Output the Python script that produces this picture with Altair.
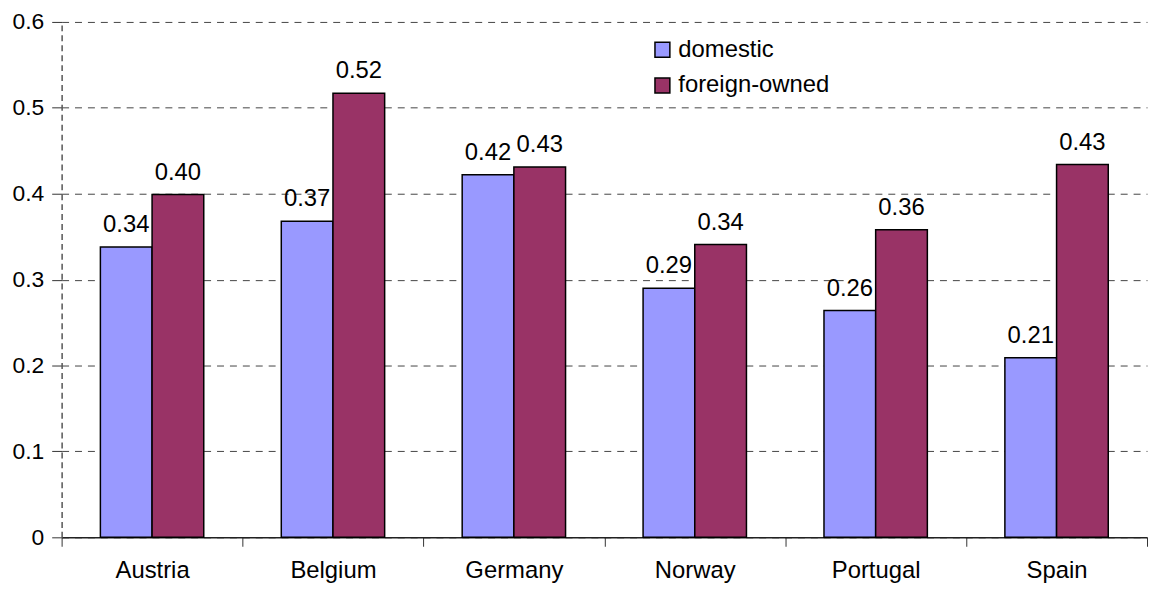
import altair as alt
import pandas as pd

countries = ["Austria", "Belgium", "Germany", "Norway", "Portugal", "Spain"]
domestic = [0.338, 0.368, 0.422, 0.290, 0.264, 0.209]
foreign_owned = [0.399, 0.517, 0.431, 0.341, 0.358, 0.434]
series = ["domestic", "foreign-owned"]
colors = ["#9999FF", "#993366"]

rows = []
for c, d, f in zip(countries, domestic, foreign_owned):
    rows.append({"country": c, "series": series[0], "value": d})
    rows.append({"country": c, "series": series[1], "value": f})
df = pd.DataFrame(rows)

FONT = "Liberation Sans"

x = alt.X("country:N", sort=countries, title=None,
          scale=alt.Scale(paddingInner=0, paddingOuter=0),
          axis=alt.Axis(labelAngle=0, grid=False))
xo = alt.XOffset("series:N", sort=series,
                 scale=alt.Scale(paddingInner=0, paddingOuter=0.75))
y = alt.Y("value:Q", title=None,
          scale=alt.Scale(domain=[0, 0.6], nice=False),
          axis=alt.Axis(values=[0, 0.1, 0.2, 0.3, 0.4, 0.5, 0.6],
                        labelExpr="datum.value == 0 ? '0' : format(datum.value, '.1f')",
                        grid=True))

bars = alt.Chart(df).mark_bar(stroke="black", strokeWidth=1.5).encode(
    x=x, xOffset=xo, y=y,
    color=alt.Color("series:N", sort=series,
                    scale=alt.Scale(domain=series, range=colors),
                    legend=alt.Legend(title=None, orient="none", legendX=593, legendY=16,
                                      symbolType="square", symbolSize=225,
                                      symbolStrokeColor="black", symbolStrokeWidth=1.5,
                                      symbolOpacity=1, labelFontSize=24, labelFont=FONT,
                                      labelColor="black", rowPadding=12, labelOffset=4)),
)

labels = alt.Chart(df).mark_text(fontSize=24, font=FONT, color="black",
                                 baseline="alphabetic", dy=-15).encode(
    x=x, xOffset=xo, y=y,
    text=alt.Text("value:Q", format=".2f"),
)

chart = alt.layer(bars, labels).properties(
    width=1093, height=519,
    autosize=alt.AutoSizeParams(type="none"),
    padding={"left": 54, "top": 12, "right": 2, "bottom": 50},
).configure_view(stroke=None).configure_axisX(
    tickBand="extent", labelFontSize=24, labelFont=FONT, labelColor="black",
    labelPadding=12, tickSize=9, tickColor="#333333", domainColor="#222222",
    domainWidth=1.5, ticks=True,
).configure_axisY(
    labelFontSize=23, labelFont=FONT, labelColor="black", labelPadding=8,
    tickSize=10, tickColor="#333333", domainColor="#555555", domainDash=[6, 4],
    domainWidth=1.5, gridColor="#444444", gridDash=[7, 6], gridWidth=1,
)

chart.save("out.html", embed_options={"renderer": "svg", "actions": False})
